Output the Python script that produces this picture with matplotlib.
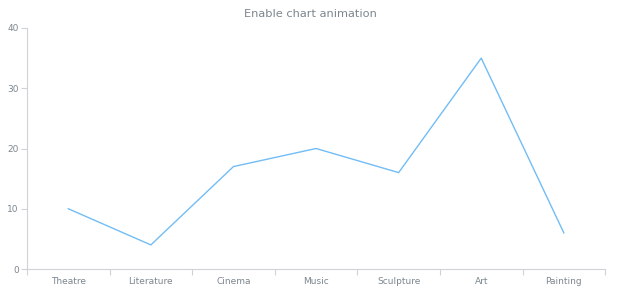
import matplotlib
matplotlib.use("Agg")
import matplotlib.pyplot as plt
import numpy as np

categories = ["Theatre", "Literature", "Cinema", "Music", "Sculpture", "Art", "Painting"]
values = [10, 4, 17, 20, 16, 35, 6]
yticks = [0, 10, 20, 30, 40]

fig = plt.figure(figsize=(6.2, 3.0), dpi=100)
ax = fig.add_axes([0.0435, 0.1033, 0.9325, 0.8034])

x = np.arange(len(categories))
ax.plot(x, values, color="#72bdf5", linewidth=1.0)
ax.set_xlim(-0.5, len(categories) - 0.5)
ax.set_ylim(0, 40)
ax.set_yticks(yticks)
ax.set_xticks(x)
ax.set_xticklabels(categories)
ax.set_xticks(np.arange(-0.5, len(categories)), minor=True)
ax.tick_params(axis="x", which="major", length=0, pad=6, labelsize=6.5, labelcolor="#7c868e")
ax.tick_params(axis="x", which="minor", length=4, color="#cfd3d6", width=0.8)
ax.tick_params(axis="y", length=4, color="#cfd3d6", width=0.8, labelsize=6.5, labelcolor="#7c868e", pad=2)

for s in ["top", "right"]:
    ax.spines[s].set_visible(False)
for s in ["left", "bottom"]:
    ax.spines[s].set_color("#cfd3d6")
    ax.spines[s].set_linewidth(0.8)

fig.text(0.5, 0.952, "Enable chart animation", ha="center", va="center", fontsize=8.2, color="#7c868e")

fig.savefig("out.png", dpi=100)
